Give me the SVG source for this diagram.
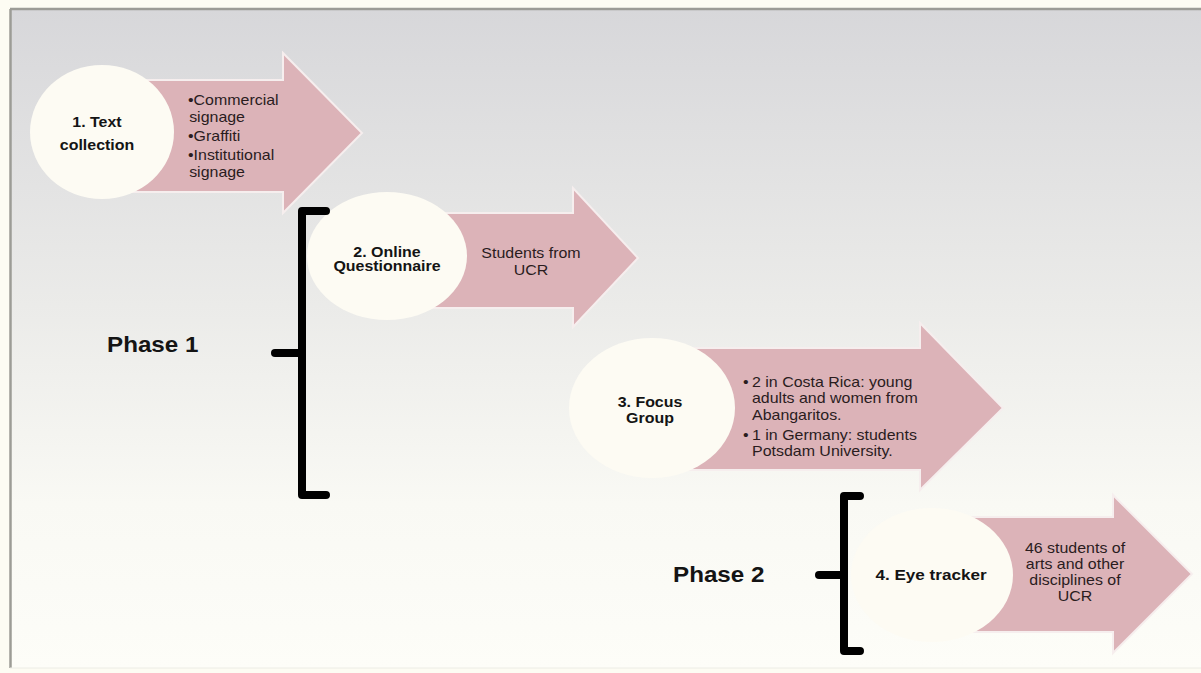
<svg xmlns="http://www.w3.org/2000/svg" width="1201" height="673" viewBox="0 0 1201 673">
  <defs>
    <linearGradient id="bg" x1="0" y1="0" x2="0" y2="1">
      <stop offset="0" stop-color="#d7d7da"/>
      <stop offset="0.45" stop-color="#ebebe9"/>
      <stop offset="0.75" stop-color="#f9f9f4"/>
      <stop offset="1" stop-color="#fdfdf8"/>
    </linearGradient>
    <style>
      .arrow { fill:#dcb3b8; stroke:#f6eeee; stroke-width:2; stroke-linejoin:miter; }
      .circle { fill:#fdfbf3; }
      .ct { font-family:"Liberation Sans", Arial, sans-serif; font-weight:bold; font-size:14px; fill:#141414; text-anchor:middle; }
      .at { font-family:"Liberation Sans", Arial, sans-serif; font-size:14px; fill:#2a1c1e; }
      .atc { font-family:"Liberation Sans", Arial, sans-serif; font-size:14px; fill:#2a1c1e; text-anchor:middle; }
      .ph { font-family:"Liberation Sans", Arial, sans-serif; font-weight:bold; font-size:22px; fill:#141414; }
      .br { fill:none; stroke:#000; stroke-width:8; stroke-linecap:round; stroke-linejoin:round; }
    </style>
  </defs>

  <rect x="0" y="0" width="1201" height="673" fill="#fdfcf3"/>
  <rect x="10" y="9" width="1191" height="659" fill="url(#bg)"/>
  <line x1="10" y1="9" x2="1201" y2="9" stroke="#9c9c96" stroke-width="2.5"/>
  <line x1="10.5" y1="9" x2="10.5" y2="668" stroke="#9c9c96" stroke-width="2.5"/>
  <line x1="10" y1="668" x2="1201" y2="668" stroke="#ecece6" stroke-width="1"/>

  <g id="node1">
    <path class="arrow" d="M102,80 H283 V53 L362,133 L283,213 V192 H102 Z"/>
    <ellipse class="circle" cx="102" cy="132" rx="72" ry="67"/>
    <g transform="translate(97 0) scale(1.14 1)">
      <text class="ct"><tspan x="0" y="127">1. Text</tspan><tspan x="0" y="150">collection</tspan></text>
    </g>
    <g transform="translate(188 0) scale(1.14 1)">
      <text class="at"><tspan x="0" y="105">•Commercial</tspan><tspan x="1" y="122">signage</tspan><tspan x="0" y="141">•Graffiti</tspan><tspan x="0" y="160">•Institutional</tspan><tspan x="1" y="177">signage</tspan></text>
    </g>
  </g>

  <g id="node2">
    <path class="arrow" d="M387,213 H573 V188 L638,258 L573,327 V308 H387 Z"/>
    <ellipse class="circle" cx="387" cy="256" rx="80" ry="64"/>
    <g transform="translate(387 0) scale(1.14 1)">
      <text class="ct"><tspan x="0" y="257">2. Online</tspan><tspan x="0" y="271">Questionnaire</tspan></text>
    </g>
    <g transform="translate(531 0) scale(1.14 1)">
      <text class="atc"><tspan x="0" y="258">Students from</tspan><tspan x="0" y="275">UCR</tspan></text>
    </g>
  </g>

  <g id="node3">
    <path class="arrow" d="M652,348 H920 V323 L1003,408 L920,490 V470 H652 Z"/>
    <ellipse class="circle" cx="652" cy="408" rx="83" ry="70"/>
    <g transform="translate(650 0) scale(1.14 1)">
      <text class="ct"><tspan x="0" y="407">3. Focus</tspan><tspan x="0" y="423">Group</tspan></text>
    </g>
    <g transform="translate(743 0) scale(1.14 1)">
      <text class="at"><tspan x="0" y="387">•</tspan><tspan x="7.9" y="387">2 in Costa Rica: young</tspan><tspan x="7.9" y="403">adults and women from</tspan><tspan x="7.9" y="420">Abangaritos.</tspan><tspan x="0" y="440">•</tspan><tspan x="7.9" y="440">1 in Germany: students</tspan><tspan x="7.9" y="456">Potsdam University.</tspan></text>
    </g>
  </g>

  <g id="node4">
    <path class="arrow" d="M932,517 H1113 V495 L1192,574 L1113,653 V632 H932 Z"/>
    <ellipse class="circle" cx="932" cy="575" rx="81" ry="67"/>
    <g transform="translate(931 0) scale(1.14 1)">
      <text class="ct" style="font-size:15px"><tspan x="0" y="580">4. Eye tracker</tspan></text>
    </g>
    <g transform="translate(1075 0) scale(1.14 1)">
      <text class="atc"><tspan x="0" y="553">46 students of</tspan><tspan x="0" y="569">arts and other</tspan><tspan x="0" y="585">disciplines of</tspan><tspan x="0" y="601">UCR</tspan></text>
    </g>
  </g>

  <g id="phase1">
    <g transform="translate(107 0) scale(1.1 1)">
      <text class="ph" x="0" y="352">Phase 1</text>
    </g>
  </g>
  <g id="phase2">
    <g transform="translate(673 0) scale(1.1 1)">
      <text class="ph" x="0" y="582">Phase 2</text>
    </g>
  </g>

  <g id="connectors">
    <path class="br" d="M326,211 H302 V495 H326"/>
    <path class="br" d="M275,353 H302"/>
    <path class="br" d="M860,496 H844 V651 H860"/>
    <path class="br" d="M819,575 H844"/>
  </g>
</svg>
